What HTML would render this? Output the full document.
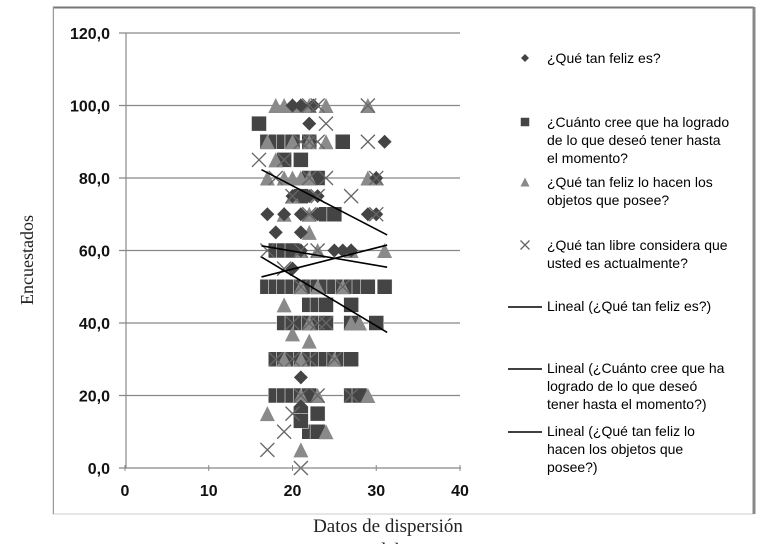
<!DOCTYPE html>
<html><head><meta charset="utf-8"><style>
body{margin:0;background:#fff;width:782px;height:544px;overflow:hidden;font-family:"Liberation Sans",sans-serif}
svg{display:block}
</style></head><body>
<svg id="c" width="782" height="544" xmlns="http://www.w3.org/2000/svg">
<rect x="53" y="7" width="700" height="507" fill="none" stroke="#ccc" stroke-width="1"/>
<line x1="53" y1="7.5" x2="754" y2="7.5" stroke="#777" stroke-width="2"/>
<line x1="754" y1="7" x2="754" y2="514" stroke="#888" stroke-width="3"/>
<line x1="53.5" y1="7" x2="53.5" y2="514" stroke="#999" stroke-width="1"/>
<g id="grid"></g><g id="marks"></g><g id="trends"></g><g id="axes"></g><g id="legend"></g>
<text x="33" y="260" transform="rotate(-90 33 260)" text-anchor="middle" font-family="Liberation Serif,serif" font-size="18" fill="#222">Encuestados</text>
<text x="388" y="532" text-anchor="middle" font-family="Liberation Serif,serif" font-size="19" fill="#222">Datos de dispersión</text>
<text x="388" y="556" text-anchor="middle" font-family="Liberation Serif,serif" font-size="19" fill="#222">del</text>
</svg>
<script>
const xTicks=[0,10,20,30,40];
const yTicks=[0,20,40,60,80,100,120];
const yTickLabels=["0,0","20,0","40,0","60,0","80,0","100,0","120,0"];
const s1x=[20,21,22.5,22,31,30,20,22,23,29,30,17,21,18,21,21,25,26,27,20,21,21,19,23];
const s1y=[100,100,100,95,90,80,75,75,75,70,70,70,70,65,65,60,60,60,60,55,25,17,70,70];
const s2x=[16,17,18,19,20,22,26,19,21,22,23,24,25,21,18,19,20,17,18,19,20,21,22,23,24,25,26,27,28,29,31,22,23,24,27,19,20,21,22,23,24,27,30,18,19,20,21,22,23,24,25,26,27,18,19,20,21,22,27,28,21,23,22,23,21,20];
const s2y=[95,90,90,90,90,90,90,85,85,80,80,70,70,75,60,60,60,50,50,50,50,50,50,50,50,50,50,50,50,50,50,45,45,45,45,40,40,40,40,40,40,40,40,30,30,30,30,30,30,30,30,30,30,20,20,20,20,20,20,20,15,15,10,10,13,90];
const s3x=[18,19,20,21,22,24,29,17,18,20,22,24,17,20,22,29,30,22,19,20,22,21,23,27,31,19,21,23,26,22,27,28,20,22,19,21,25,21,23,29,17,21,24,19,21];
const s3y=[100,100,100,100,100,100,100,90,85,90,90,90,80,80,80,80,80,65,70,75,70,60,60,60,60,45,50,50,50,40,40,40,37,35,30,30,30,20,20,20,15,5,10,80,80];
const s4x=[29,22,23,24,16,19,29,22,23,21,30,18,22,24,20,23,27,30,22,17,21,23,19,20,22,23,18,20,22,25,21,23,27,20,19,17,21,24,21,26];
const s4y=[100,100,100,95,85,85,90,90,90,90,80,80,80,80,75,75,75,70,70,60,60,60,55,40,40,40,30,30,30,30,20,20,20,15,10,5,0,40,50,50];
const trendX0=[16.3,16.3,16.3,16.3], trendX1=[31.3,31.3,31.3,31.3];
const trendY0=[82.3,61.3,52.7,58.2], trendY1=[64.3,55.4,61.5,37.4];
const legendLabels=[["¿Qué tan feliz es?"],["¿Cuánto cree que ha logrado","de lo que deseó tener hasta","el momento?"],["¿Qué tan feliz lo hacen los","objetos que posee?"],["¿Qué tan libre considera que","usted es actualmente?"],["Lineal (¿Qué tan feliz es?)"],["Lineal (¿Cuánto cree que ha","logrado de lo que deseó","tener hasta el momento?)"],["Lineal (¿Qué tan feliz lo","hacen los objetos que","posee?)"]];
const X=v=>125+v*8.375, Y=v=>468-v*3.625;
const NS="http://www.w3.org/2000/svg";
function mk(p,t,a){const e=document.createElementNS(NS,t);for(const k in a)e.setAttribute(k,a[k]);p.appendChild(e);return e;}
const grid=document.getElementById('grid'),axes=document.getElementById('axes'),marks=document.getElementById('marks'),trends=document.getElementById('trends'),leg=document.getElementById('legend');
yTicks.forEach((v,i)=>{
 if(v>0){const g=mk(grid,'line',{x1:119,x2:460,y1:Y(v),y2:Y(v),stroke:'#888','stroke-width':1.2});
 }
 const t=mk(axes,'text',{x:110,y:Y(v)+6,'text-anchor':'end','font-size':16,'font-weight':'bold',fill:'#111'});t.textContent=yTickLabels[i];
 
});
let a=mk(axes,'line',{x1:126,x2:126,y1:Y(120),y2:Y(0),stroke:'#888','stroke-width':1.2});

a=mk(axes,'line',{x1:119,x2:461,y1:Y(0),y2:Y(0),stroke:'#888','stroke-width':1.2});

xTicks.forEach(v=>{
 const tk=mk(axes,'line',{x1:X(v),x2:X(v),y1:Y(0)-3,y2:Y(0)+3,stroke:'#888'});
 
 const t=mk(axes,'text',{x:X(v),y:Y(0)+28,'text-anchor':'middle','font-size':16,'font-weight':'bold',fill:'#111'});t.textContent=v;
 
});
function sq(p,x,y,s){return mk(p,'rect',{x:x-s/2,y:y-s/2,width:s,height:s,fill:'#444',stroke:'#fff','stroke-width':0.5});}
function dm(p,x,y,s){return mk(p,'polygon',{points:`${x},${y-s/2} ${x+s/2},${y} ${x},${y+s/2} ${x-s/2},${y}`,fill:'#444'});}
function tr(p,x,y,s){return mk(p,'polygon',{points:`${x},${y-s/2} ${x+s/2},${y+s/2} ${x-s/2},${y+s/2}`,fill:'#8a8a8a'});}
function cx(p,x,y,s){return mk(p,'path',{d:`M${x-s/2},${y-s/2}L${x+s/2},${y+s/2}M${x+s/2},${y-s/2}L${x-s/2},${y+s/2}`,stroke:'#666','stroke-width':1.3,fill:'none'});}
s2x.forEach((v,i)=>{const e=sq(marks,X(v),Y(s2y[i]),15);});
s3x.forEach((v,i)=>{const e=tr(marks,X(v),Y(s3y[i]),15);});
s1x.forEach((v,i)=>{const e=dm(marks,X(v),Y(s1y[i]),14);});
s4x.forEach((v,i)=>{const e=cx(marks,X(v),Y(s4y[i]),14);});
trendX0.forEach((v,i)=>{const e=mk(trends,'line',{x1:X(v),y1:Y(trendY0[i]),x2:X(trendX1[i]),y2:Y(trendY1[i]),stroke:'#000','stroke-width':1.6});
 });
const legY=[63,127,187,250,311,373,436];
legendLabels.forEach((lines,i)=>{
 const g=mk(leg,'g',{});
 const y=legY[i]-5;
 if(i==0)dm(g,525,y,8);else if(i==1)sq(g,525,y,9);else if(i==2)tr(g,525,y,9);else if(i==3)cx(g,525,y,9);
 else mk(g,'line',{x1:508,x2:542,y1:y+1,y2:y+1,stroke:'#000','stroke-width':1.5});
 lines.forEach((l,j)=>{const t=mk(g,'text',{x:547,y:legY[i]+j*18,'font-size':14,fill:'#000'});t.textContent=l;});
});
</script>
</body></html>
